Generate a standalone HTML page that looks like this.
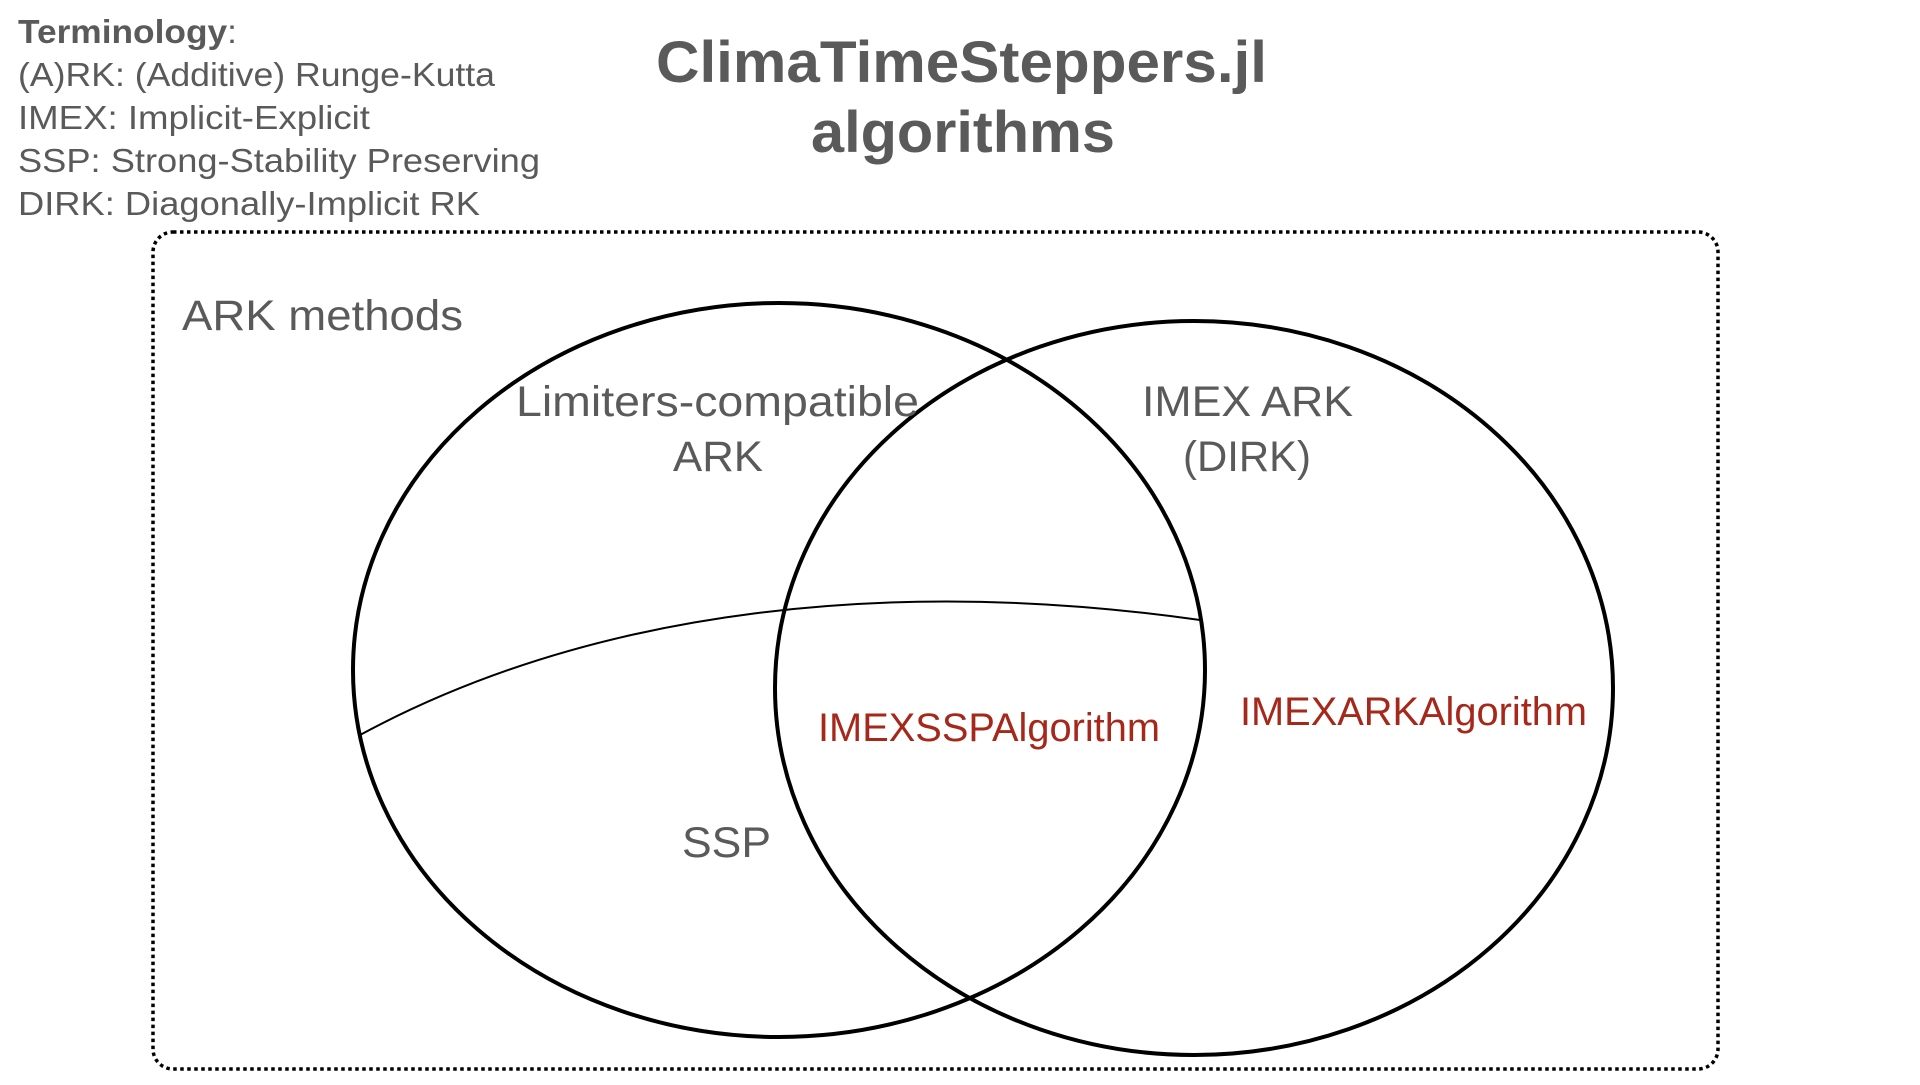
<!DOCTYPE html>
<html><head><meta charset="utf-8"><style>
html,body{margin:0;padding:0;background:#fff;}
body{width:1920px;height:1080px;overflow:hidden;}
svg text{font-family:"Liberation Sans",Arial,sans-serif;}
</style></head><body>
<svg width="1920" height="1080" viewBox="0 0 1920 1080" xmlns="http://www.w3.org/2000/svg">
<g fill="#5a5a5a" font-size="33">
<text x="18" y="43" font-weight="bold" textLength="219" lengthAdjust="spacingAndGlyphs">Terminology<tspan font-weight="normal">:</tspan></text>
<text x="18" y="86" textLength="477" lengthAdjust="spacingAndGlyphs">(A)RK: (Additive) Runge-Kutta</text>
<text x="18" y="129" textLength="352" lengthAdjust="spacingAndGlyphs">IMEX: Implicit-Explicit</text>
<text x="18" y="172" textLength="522" lengthAdjust="spacingAndGlyphs">SSP: Strong-Stability Preserving</text>
<text x="18" y="215" textLength="462" lengthAdjust="spacingAndGlyphs">DIRK: Diagonally-Implicit RK</text>
</g>
<g fill="#5a5a5a" font-size="58" font-weight="bold">
<text x="656" y="82" textLength="611" lengthAdjust="spacingAndGlyphs">ClimaTimeSteppers.jl</text>
<text x="811" y="152" textLength="304" lengthAdjust="spacingAndGlyphs">algorithms</text>
</g>
<rect x="153" y="232" width="1565" height="837" rx="20" ry="20" fill="none" stroke="#000" stroke-width="3.5" stroke-dasharray="3.5 3.5"/>
<text x="182" y="330" font-size="43" fill="#5a5a5a" textLength="281" lengthAdjust="spacingAndGlyphs">ARK methods</text>
<ellipse cx="779" cy="670" rx="426" ry="367" fill="none" stroke="#000" stroke-width="4"/>
<ellipse cx="1194" cy="688" rx="419" ry="367" fill="none" stroke="#000" stroke-width="4"/>
<path d="M360 735 C 597 607, 896 577, 1200 620" fill="none" stroke="#000" stroke-width="2"/>
<g fill="#5a5a5a" font-size="43">
<text x="516" y="416" textLength="403" lengthAdjust="spacingAndGlyphs">Limiters-compatible</text>
<text x="673" y="471" textLength="90" lengthAdjust="spacingAndGlyphs">ARK</text>
<text x="1142" y="416" textLength="211" lengthAdjust="spacingAndGlyphs">IMEX ARK</text>
<text x="1183" y="471" textLength="128" lengthAdjust="spacingAndGlyphs">(DIRK)</text>
<text x="682" y="857" textLength="89" lengthAdjust="spacingAndGlyphs">SSP</text>
</g>
<g fill="#a5281b" font-size="40">
<text x="818" y="741" textLength="342" lengthAdjust="spacingAndGlyphs">IMEXSSPAlgorithm</text>
<text x="1240" y="725" textLength="347" lengthAdjust="spacingAndGlyphs">IMEXARKAlgorithm</text>
</g>
</svg>
</body></html>
